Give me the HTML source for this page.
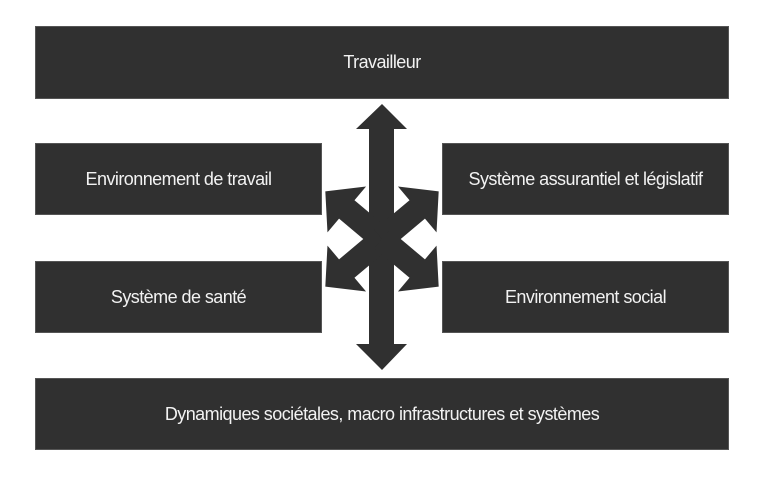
<!DOCTYPE html>
<html><head><meta charset="utf-8"><style>
html,body{margin:0;padding:0;background:#fff;width:768px;height:500px;overflow:hidden}
.b{position:absolute;background:#303030;border:1px solid #555;box-sizing:border-box;color:#f2f2f2;font:18px "Liberation Sans",sans-serif;letter-spacing:-0.55px;display:flex;align-items:center;justify-content:center}
svg{position:absolute;left:0;top:0}
</style></head><body>
<div class="b" style="left:35px;top:26px;width:694px;height:73px">Travailleur</div>
<div class="b" style="left:35px;top:143px;width:287px;height:72px">Environnement de travail</div>
<div class="b" style="left:442px;top:143px;width:287px;height:72px">Système assurantiel et législatif</div>
<div class="b" style="left:35px;top:261px;width:287px;height:72px">Système de santé</div>
<div class="b" style="left:442px;top:261px;width:287px;height:72px">Environnement social</div>
<div class="b" style="left:35px;top:378px;width:694px;height:72px">Dynamiques sociétales, macro infrastructures et systèmes</div>
<svg width="768" height="500">
<g fill="#303030">
<polygon points="382,104 407,129 394,129 394,344 407,344 382,370 356,344 369,344 369,129 356,129"/>
<g transform="translate(382,239)">
<g transform="rotate(-140)"><polygon points="0,-12 46,-12 46,-30 74,0 46,30 46,12 0,12"/></g>
<g transform="rotate(-40)"><polygon points="0,-12 46,-12 46,-30 74,0 46,30 46,12 0,12"/></g>
<g transform="rotate(140)"><polygon points="0,-12 46,-12 46,-30 74,0 46,30 46,12 0,12"/></g>
<g transform="rotate(40)"><polygon points="0,-12 46,-12 46,-30 74,0 46,30 46,12 0,12"/></g>
</g>
</g>
</svg>
</body></html>
